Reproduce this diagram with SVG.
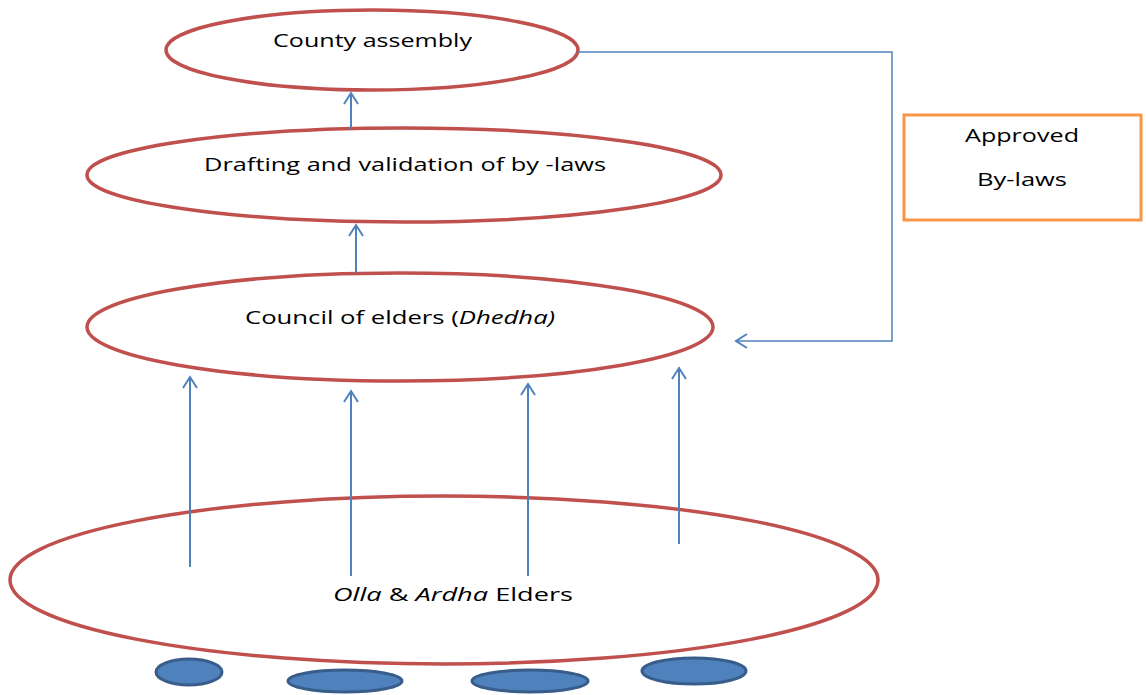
<svg xmlns="http://www.w3.org/2000/svg" width="1146" height="695" viewBox="0 0 1146 695">
<style>
.oval{fill:#fff;stroke:#C0504D;stroke-width:3.5}
.dot{fill:#4F81BD;stroke:#385D8A;stroke-width:3}
.lbl{font-family:"Open Sans","Noto Sans",sans-serif;font-size:19px;fill:#000}
.conn{fill:none;stroke:#4F81BD;stroke-width:2}
.thin{fill:none;stroke:#4F81BD;stroke-width:1.5}
</style>
<defs>
<marker id="open" markerUnits="userSpaceOnUse" markerWidth="20" markerHeight="20" refX="12" refY="8" orient="auto" viewBox="0 0 20 16">
<path d="M1,1 L12,8 L1,15" fill="none" stroke="#4F81BD" stroke-width="2"/>
</marker>
</defs>
<rect width="1146" height="695" fill="#fff"/>
<g id="n-county">
<ellipse class="oval" cx="372" cy="50" rx="206" ry="40"/>
<text class="lbl" x="273" y="47" textLength="199" lengthAdjust="spacingAndGlyphs">County assembly</text>
</g>
<g id="n-drafting">
<ellipse class="oval" cx="404" cy="175" rx="317" ry="47"/>
<text class="lbl" x="204" y="171" textLength="402" lengthAdjust="spacingAndGlyphs">Drafting and validation of by -laws</text>
</g>
<g id="n-council">
<ellipse class="oval" cx="400" cy="327" rx="313" ry="54"/>
<text class="lbl" x="245" y="324" textLength="310" lengthAdjust="spacingAndGlyphs">Council of elders (<tspan font-style="italic">Dhedha)</tspan></text>
</g>
<g id="n-approved">
<rect x="904" y="115" width="237" height="105" fill="#fff" stroke="#F79646" stroke-width="3"/>
<text class="lbl" x="965" y="142" textLength="114" lengthAdjust="spacingAndGlyphs">Approved</text>
<text class="lbl" x="977" y="186" textLength="90" lengthAdjust="spacingAndGlyphs">By-laws</text>
</g>
<g id="n-elders">
<ellipse class="oval" cx="444" cy="580" rx="434" ry="84"/>
<text class="lbl" x="333" y="601" textLength="240" lengthAdjust="spacingAndGlyphs"><tspan font-style="italic">Olla</tspan> &amp; <tspan font-style="italic">Ardha</tspan> Elders</text>
</g>
<g id="n-dots">
<ellipse class="dot" cx="189" cy="672" rx="33" ry="13"/>
<ellipse class="dot" cx="345" cy="681" rx="57" ry="11"/>
<ellipse class="dot" cx="530" cy="681" rx="58" ry="11"/>
<ellipse class="dot" cx="694" cy="671" rx="52" ry="13"/>
</g>
<g id="connectors">
<line class="conn" x1="351" y1="129" x2="351" y2="93" marker-end="url(#open)"/>
<line class="conn" x1="356" y1="273" x2="356" y2="225" marker-end="url(#open)"/>
<line class="conn" x1="190" y1="567" x2="190" y2="377" marker-end="url(#open)"/>
<line class="conn" x1="351" y1="576" x2="351" y2="391" marker-end="url(#open)"/>
<line class="conn" x1="528" y1="576" x2="528" y2="384" marker-end="url(#open)"/>
<line class="conn" x1="679" y1="544" x2="679" y2="368" marker-end="url(#open)"/>
<path class="thin" d="M578,52 H892 V341 H736" marker-end="url(#open)"/>
</g>
</svg>
